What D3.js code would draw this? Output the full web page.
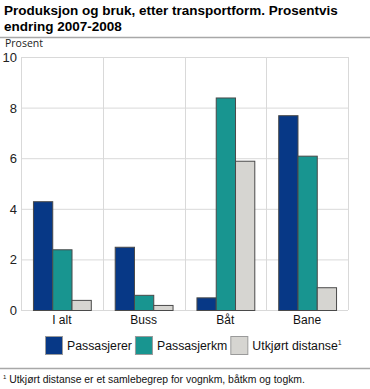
<!DOCTYPE html>
<html lang="no">
<head>
<meta charset="UTF-8">
<title>Produksjon og bruk</title>
<style>
  body { margin: 0; background: #fff; }
  svg { font-family: "Liberation Sans", Arial, sans-serif; display: block; }
</style>
</head>
<body>
<svg id="chart" width="370" height="389"></svg>
<script src="https://cdn.jsdelivr.net/npm/d3@7"></script>
<script>
// data
const categories = ["I alt", "Buss", "Båt", "Bane"];
const seriesNames = ["Passasjerer", "Passasjerkm", "Utkjørt distanse"];
const passasjerer = [4.3, 2.5, 0.5, 7.7];
const passasjerkm = [2.4, 0.6, 8.4, 6.1];
const utkjort = [0.4, 0.2, 5.9, 0.9];
const yTicks = [0, 2, 4, 6, 8, 10];

const series = [passasjerer, passasjerkm, utkjort];
const colors = ["#073886", "#189590", "#d6d5d1"];

const svg = d3.select("#chart");
const plotLeft = 21, plotRight = 348, plotTop = 57, plotBottom = 310;

// title
const title = svg.append("g").attr("font-weight", "bold").attr("font-size", 13.5).attr("fill", "#000");
title.append("text").attr("x", 4).attr("y", 15).text("Produksjon og bruk, etter transportform. Prosentvis");
title.append("text").attr("x", 4).attr("y", 31).text("endring 2007-2008");
svg.append("line").attr("x1", 0).attr("x2", 370).attr("y1", 37.5).attr("y2", 37.5)
  .attr("stroke", "#a8a8a8").attr("stroke-width", 1.5);

svg.append("text").attr("x", 5).attr("y", 47)
  .attr("font-family", "'Open Sans', sans-serif").attr("font-size", 10.5).attr("fill", "#222").text("Prosent");

const x = d3.scaleBand().domain(categories).range([plotLeft, plotRight]);
const xInner = d3.scaleBand().domain(d3.range(series.length)).range([0, x.bandwidth()]).paddingOuter(0.62);
const y = d3.scaleLinear().domain([0, 10]).range([plotBottom, plotTop]);

// grid
svg.append("g").selectAll("line").data(yTicks).join("line")
  .attr("x1", plotLeft).attr("x2", plotRight)
  .attr("y1", d => y(d) + 0.5).attr("y2", d => y(d) + 0.5)
  .attr("stroke", "#d9d9d9");
svg.append("g").selectAll("line").data(categories.map(c => x(c)).concat([plotRight])).join("line")
  .attr("x1", d => Math.round(d) + 0.5).attr("x2", d => Math.round(d) + 0.5)
  .attr("y1", plotTop).attr("y2", plotBottom)
  .attr("stroke", "#d9d9d9");

// y labels
svg.append("g").selectAll("text").data(yTicks).join("text")
  .attr("x", 17).attr("y", d => y(d) + 5)
  .attr("text-anchor", "end").attr("font-size", 13).attr("fill", "#222")
  .text(d => d);

// bars
series.forEach((vals, s) => {
  svg.append("g").selectAll("rect").data(vals).join("rect")
    .attr("x", (d, i) => x(categories[i]) + xInner(s) + 0.5)
    .attr("width", xInner.bandwidth())
    .attr("y", d => y(d) + 0.5)
    .attr("height", d => y(0) - y(d))
    .attr("fill", colors[s])
    .attr("stroke", "#4a4a4a").attr("stroke-width", 1);
});

// x labels
svg.append("g").selectAll("text").data(categories).join("text")
  .attr("x", d => x(d) + x.bandwidth() / 2).attr("y", 324)
  .attr("text-anchor", "middle").attr("font-size", 12).attr("fill", "#111")
  .text(d => d);

// legend
const lg = svg.append("g");
let lx = 45;
seriesNames.forEach((n, i) => {
  lg.append("rect").attr("x", lx + 0.5).attr("y", 336.5).attr("width", 17).attr("height", 18)
    .attr("fill", colors[i]).attr("stroke", "#9a9a9a");
  const t = lg.append("text").attr("x", lx + 22).attr("y", 350)
    .attr("font-size", 12.3).attr("fill", "#111").text(n);
  if (i === 2) t.append("tspan").attr("font-size", 7).attr("dy", -5).text("1");
  lx += 22 + t.node().getComputedTextLength() + 3;
});

// footer
svg.append("line").attr("x1", 0).attr("x2", 370).attr("y1", 368.5).attr("y2", 368.5)
  .attr("stroke", "#a8a8a8").attr("stroke-width", 1.5);
const ft = svg.append("text").attr("x", 3).attr("y", 383).attr("font-size", 10.4).attr("fill", "#111");
ft.append("tspan").attr("font-size", 6).attr("dy", -4).text("1");
ft.append("tspan").attr("dy", 4).text(" Utkjørt distanse er et samlebegrep for vognkm, båtkm og togkm.");
</script>
</body>
</html>
